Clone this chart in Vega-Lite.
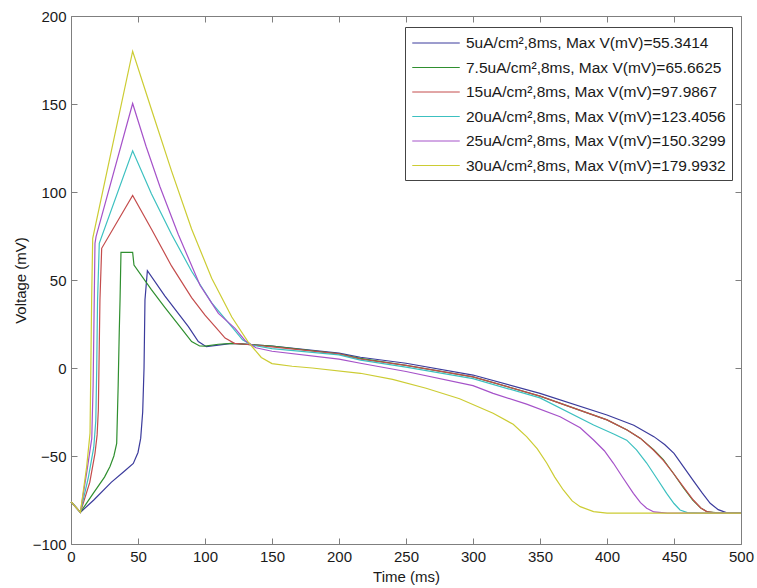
{
  "$schema": "https://vega.github.io/schema/vega-lite/v6.json",
  "width": 670,
  "height": 528,
  "autosize": {"type": "none"},
  "padding": {"left": 71, "top": 16, "right": 16, "bottom": 44},
  "background": "white",
  "config": {
    "view": {"stroke": null},
    "font": "Liberation Sans",
    "axis": {
      "grid": false,
      "domainColor": "#7f7f7f",
      "tickColor": "#7f7f7f",
      "tickSize": -6,
      "labelPadding": 11,
      "labelFontSize": 15,
      "labelColor": "#1a1a1a",
      "labelFlush": false,
      "labelOverlap": false,
      "titleFontSize": 15,
      "titleFontWeight": "normal",
      "titleColor": "#1a1a1a"
    }
  },
  "datasets": {
    "curves": [
      {"s": "5uA/cm²,8ms, Max V(mV)=55.3414", "t": 0, "v": -76},
      {"s": "5uA/cm²,8ms, Max V(mV)=55.3414", "t": 7, "v": -82},
      {"s": "5uA/cm²,8ms, Max V(mV)=55.3414", "t": 17, "v": -75},
      {"s": "5uA/cm²,8ms, Max V(mV)=55.3414", "t": 30, "v": -65},
      {"s": "5uA/cm²,8ms, Max V(mV)=55.3414", "t": 40, "v": -58.5},
      {"s": "5uA/cm²,8ms, Max V(mV)=55.3414", "t": 46.5, "v": -54.2},
      {"s": "5uA/cm²,8ms, Max V(mV)=55.3414", "t": 50, "v": -48},
      {"s": "5uA/cm²,8ms, Max V(mV)=55.3414", "t": 52, "v": -40},
      {"s": "5uA/cm²,8ms, Max V(mV)=55.3414", "t": 53.5, "v": -25},
      {"s": "5uA/cm²,8ms, Max V(mV)=55.3414", "t": 54.5, "v": 0},
      {"s": "5uA/cm²,8ms, Max V(mV)=55.3414", "t": 55.2, "v": 38.6},
      {"s": "5uA/cm²,8ms, Max V(mV)=55.3414", "t": 57, "v": 55.3},
      {"s": "5uA/cm²,8ms, Max V(mV)=55.3414", "t": 70, "v": 41},
      {"s": "5uA/cm²,8ms, Max V(mV)=55.3414", "t": 87.6, "v": 23.5},
      {"s": "5uA/cm²,8ms, Max V(mV)=55.3414", "t": 95, "v": 15},
      {"s": "5uA/cm²,8ms, Max V(mV)=55.3414", "t": 101, "v": 12.1},
      {"s": "5uA/cm²,8ms, Max V(mV)=55.3414", "t": 110, "v": 13},
      {"s": "5uA/cm²,8ms, Max V(mV)=55.3414", "t": 120, "v": 14},
      {"s": "5uA/cm²,8ms, Max V(mV)=55.3414", "t": 150, "v": 12.5},
      {"s": "5uA/cm²,8ms, Max V(mV)=55.3414", "t": 200, "v": 8.5},
      {"s": "5uA/cm²,8ms, Max V(mV)=55.3414", "t": 216, "v": 6.1},
      {"s": "5uA/cm²,8ms, Max V(mV)=55.3414", "t": 250, "v": 2.7},
      {"s": "5uA/cm²,8ms, Max V(mV)=55.3414", "t": 300, "v": -4},
      {"s": "5uA/cm²,8ms, Max V(mV)=55.3414", "t": 350, "v": -14.4},
      {"s": "5uA/cm²,8ms, Max V(mV)=55.3414", "t": 400, "v": -26.7},
      {"s": "5uA/cm²,8ms, Max V(mV)=55.3414", "t": 420, "v": -32.5},
      {"s": "5uA/cm²,8ms, Max V(mV)=55.3414", "t": 435, "v": -39},
      {"s": "5uA/cm²,8ms, Max V(mV)=55.3414", "t": 443, "v": -43.5},
      {"s": "5uA/cm²,8ms, Max V(mV)=55.3414", "t": 450, "v": -48.5},
      {"s": "5uA/cm²,8ms, Max V(mV)=55.3414", "t": 457, "v": -56},
      {"s": "5uA/cm²,8ms, Max V(mV)=55.3414", "t": 464, "v": -63.6},
      {"s": "5uA/cm²,8ms, Max V(mV)=55.3414", "t": 471, "v": -71},
      {"s": "5uA/cm²,8ms, Max V(mV)=55.3414", "t": 477, "v": -76.9},
      {"s": "5uA/cm²,8ms, Max V(mV)=55.3414", "t": 483, "v": -80.5},
      {"s": "5uA/cm²,8ms, Max V(mV)=55.3414", "t": 489, "v": -82.2},
      {"s": "5uA/cm²,8ms, Max V(mV)=55.3414", "t": 500, "v": -82.5},

      {"s": "7.5uA/cm²,8ms, Max V(mV)=65.6625", "t": 0, "v": -76},
      {"s": "7.5uA/cm²,8ms, Max V(mV)=65.6625", "t": 7, "v": -82},
      {"s": "7.5uA/cm²,8ms, Max V(mV)=65.6625", "t": 16.6, "v": -71.2},
      {"s": "7.5uA/cm²,8ms, Max V(mV)=65.6625", "t": 25, "v": -62},
      {"s": "7.5uA/cm²,8ms, Max V(mV)=65.6625", "t": 29.1, "v": -56},
      {"s": "7.5uA/cm²,8ms, Max V(mV)=65.6625", "t": 32, "v": -50},
      {"s": "7.5uA/cm²,8ms, Max V(mV)=65.6625", "t": 34.1, "v": -42.8},
      {"s": "7.5uA/cm²,8ms, Max V(mV)=65.6625", "t": 35.2, "v": -10},
      {"s": "7.5uA/cm²,8ms, Max V(mV)=65.6625", "t": 36, "v": 20},
      {"s": "7.5uA/cm²,8ms, Max V(mV)=65.6625", "t": 36.6, "v": 38.6},
      {"s": "7.5uA/cm²,8ms, Max V(mV)=65.6625", "t": 37.3, "v": 65.7},
      {"s": "7.5uA/cm²,8ms, Max V(mV)=65.6625", "t": 46, "v": 65.7},
      {"s": "7.5uA/cm²,8ms, Max V(mV)=65.6625", "t": 47, "v": 58.5},
      {"s": "7.5uA/cm²,8ms, Max V(mV)=65.6625", "t": 60, "v": 44.5},
      {"s": "7.5uA/cm²,8ms, Max V(mV)=65.6625", "t": 70, "v": 34.5},
      {"s": "7.5uA/cm²,8ms, Max V(mV)=65.6625", "t": 81.3, "v": 23.5},
      {"s": "7.5uA/cm²,8ms, Max V(mV)=65.6625", "t": 90, "v": 15},
      {"s": "7.5uA/cm²,8ms, Max V(mV)=65.6625", "t": 96, "v": 12.5},
      {"s": "7.5uA/cm²,8ms, Max V(mV)=65.6625", "t": 100, "v": 12.4},
      {"s": "7.5uA/cm²,8ms, Max V(mV)=65.6625", "t": 110, "v": 13.5},
      {"s": "7.5uA/cm²,8ms, Max V(mV)=65.6625", "t": 120, "v": 14},
      {"s": "7.5uA/cm²,8ms, Max V(mV)=65.6625", "t": 150, "v": 12.5},
      {"s": "7.5uA/cm²,8ms, Max V(mV)=65.6625", "t": 200, "v": 8},
      {"s": "7.5uA/cm²,8ms, Max V(mV)=65.6625", "t": 216, "v": 5.5},
      {"s": "7.5uA/cm²,8ms, Max V(mV)=65.6625", "t": 250, "v": 1.5},
      {"s": "7.5uA/cm²,8ms, Max V(mV)=65.6625", "t": 300, "v": -5},
      {"s": "7.5uA/cm²,8ms, Max V(mV)=65.6625", "t": 350, "v": -16},
      {"s": "7.5uA/cm²,8ms, Max V(mV)=65.6625", "t": 400, "v": -29.5},
      {"s": "7.5uA/cm²,8ms, Max V(mV)=65.6625", "t": 415, "v": -35.2},
      {"s": "7.5uA/cm²,8ms, Max V(mV)=65.6625", "t": 425, "v": -40},
      {"s": "7.5uA/cm²,8ms, Max V(mV)=65.6625", "t": 435, "v": -46.6},
      {"s": "7.5uA/cm²,8ms, Max V(mV)=65.6625", "t": 442, "v": -52},
      {"s": "7.5uA/cm²,8ms, Max V(mV)=65.6625", "t": 449.5, "v": -59.8},
      {"s": "7.5uA/cm²,8ms, Max V(mV)=65.6625", "t": 457, "v": -68},
      {"s": "7.5uA/cm²,8ms, Max V(mV)=65.6625", "t": 464, "v": -75},
      {"s": "7.5uA/cm²,8ms, Max V(mV)=65.6625", "t": 470, "v": -79.5},
      {"s": "7.5uA/cm²,8ms, Max V(mV)=65.6625", "t": 475, "v": -81.8},
      {"s": "7.5uA/cm²,8ms, Max V(mV)=65.6625", "t": 485, "v": -82.5},
      {"s": "7.5uA/cm²,8ms, Max V(mV)=65.6625", "t": 500, "v": -82.5},

      {"s": "15uA/cm²,8ms, Max V(mV)=97.9867", "t": 0, "v": -76},
      {"s": "15uA/cm²,8ms, Max V(mV)=97.9867", "t": 7, "v": -82},
      {"s": "15uA/cm²,8ms, Max V(mV)=97.9867", "t": 14, "v": -65},
      {"s": "15uA/cm²,8ms, Max V(mV)=97.9867", "t": 17.9, "v": -48.5},
      {"s": "15uA/cm²,8ms, Max V(mV)=97.9867", "t": 19.5, "v": -38},
      {"s": "15uA/cm²,8ms, Max V(mV)=97.9867", "t": 20.4, "v": -23.9},
      {"s": "15uA/cm²,8ms, Max V(mV)=97.9867", "t": 21.6, "v": 38.6},
      {"s": "15uA/cm²,8ms, Max V(mV)=97.9867", "t": 22.9, "v": 68},
      {"s": "15uA/cm²,8ms, Max V(mV)=97.9867", "t": 46, "v": 98},
      {"s": "15uA/cm²,8ms, Max V(mV)=97.9867", "t": 60, "v": 79},
      {"s": "15uA/cm²,8ms, Max V(mV)=97.9867", "t": 75, "v": 58},
      {"s": "15uA/cm²,8ms, Max V(mV)=97.9867", "t": 90, "v": 40},
      {"s": "15uA/cm²,8ms, Max V(mV)=97.9867", "t": 100, "v": 30},
      {"s": "15uA/cm²,8ms, Max V(mV)=97.9867", "t": 108.7, "v": 22.5},
      {"s": "15uA/cm²,8ms, Max V(mV)=97.9867", "t": 115, "v": 17},
      {"s": "15uA/cm²,8ms, Max V(mV)=97.9867", "t": 122, "v": 14},
      {"s": "15uA/cm²,8ms, Max V(mV)=97.9867", "t": 130, "v": 13.5},
      {"s": "15uA/cm²,8ms, Max V(mV)=97.9867", "t": 150, "v": 12},
      {"s": "15uA/cm²,8ms, Max V(mV)=97.9867", "t": 200, "v": 8},
      {"s": "15uA/cm²,8ms, Max V(mV)=97.9867", "t": 216, "v": 5},
      {"s": "15uA/cm²,8ms, Max V(mV)=97.9867", "t": 250, "v": 1.5},
      {"s": "15uA/cm²,8ms, Max V(mV)=97.9867", "t": 300, "v": -5},
      {"s": "15uA/cm²,8ms, Max V(mV)=97.9867", "t": 350, "v": -16},
      {"s": "15uA/cm²,8ms, Max V(mV)=97.9867", "t": 400, "v": -29.5},
      {"s": "15uA/cm²,8ms, Max V(mV)=97.9867", "t": 415, "v": -35.2},
      {"s": "15uA/cm²,8ms, Max V(mV)=97.9867", "t": 425, "v": -40},
      {"s": "15uA/cm²,8ms, Max V(mV)=97.9867", "t": 434.6, "v": -46.6},
      {"s": "15uA/cm²,8ms, Max V(mV)=97.9867", "t": 442, "v": -52.5},
      {"s": "15uA/cm²,8ms, Max V(mV)=97.9867", "t": 449.5, "v": -59.8},
      {"s": "15uA/cm²,8ms, Max V(mV)=97.9867", "t": 457, "v": -67.5},
      {"s": "15uA/cm²,8ms, Max V(mV)=97.9867", "t": 464.4, "v": -75},
      {"s": "15uA/cm²,8ms, Max V(mV)=97.9867", "t": 470, "v": -79.5},
      {"s": "15uA/cm²,8ms, Max V(mV)=97.9867", "t": 474.4, "v": -81.6},
      {"s": "15uA/cm²,8ms, Max V(mV)=97.9867", "t": 482, "v": -82.5},
      {"s": "15uA/cm²,8ms, Max V(mV)=97.9867", "t": 500, "v": -82.5},

      {"s": "20uA/cm²,8ms, Max V(mV)=123.4056", "t": 0, "v": -76},
      {"s": "20uA/cm²,8ms, Max V(mV)=123.4056", "t": 7, "v": -82},
      {"s": "20uA/cm²,8ms, Max V(mV)=123.4056", "t": 13, "v": -62},
      {"s": "20uA/cm²,8ms, Max V(mV)=123.4056", "t": 17, "v": -45},
      {"s": "20uA/cm²,8ms, Max V(mV)=123.4056", "t": 18.5, "v": -30},
      {"s": "20uA/cm²,8ms, Max V(mV)=123.4056", "t": 19.2, "v": 0},
      {"s": "20uA/cm²,8ms, Max V(mV)=123.4056", "t": 19.8, "v": 38},
      {"s": "20uA/cm²,8ms, Max V(mV)=123.4056", "t": 21.1, "v": 70.8},
      {"s": "20uA/cm²,8ms, Max V(mV)=123.4056", "t": 46, "v": 123.4},
      {"s": "20uA/cm²,8ms, Max V(mV)=123.4056", "t": 60, "v": 99},
      {"s": "20uA/cm²,8ms, Max V(mV)=123.4056", "t": 75, "v": 76},
      {"s": "20uA/cm²,8ms, Max V(mV)=123.4056", "t": 90, "v": 55},
      {"s": "20uA/cm²,8ms, Max V(mV)=123.4056", "t": 105, "v": 37},
      {"s": "20uA/cm²,8ms, Max V(mV)=123.4056", "t": 121, "v": 22.5},
      {"s": "20uA/cm²,8ms, Max V(mV)=123.4056", "t": 128, "v": 16},
      {"s": "20uA/cm²,8ms, Max V(mV)=123.4056", "t": 135, "v": 13},
      {"s": "20uA/cm²,8ms, Max V(mV)=123.4056", "t": 150, "v": 11},
      {"s": "20uA/cm²,8ms, Max V(mV)=123.4056", "t": 200, "v": 7.5},
      {"s": "20uA/cm²,8ms, Max V(mV)=123.4056", "t": 216, "v": 4.5},
      {"s": "20uA/cm²,8ms, Max V(mV)=123.4056", "t": 250, "v": 0.5},
      {"s": "20uA/cm²,8ms, Max V(mV)=123.4056", "t": 300, "v": -6},
      {"s": "20uA/cm²,8ms, Max V(mV)=123.4056", "t": 350, "v": -17},
      {"s": "20uA/cm²,8ms, Max V(mV)=123.4056", "t": 390, "v": -32.4},
      {"s": "20uA/cm²,8ms, Max V(mV)=123.4056", "t": 405, "v": -37.5},
      {"s": "20uA/cm²,8ms, Max V(mV)=123.4056", "t": 414.7, "v": -41},
      {"s": "20uA/cm²,8ms, Max V(mV)=123.4056", "t": 422, "v": -46.5},
      {"s": "20uA/cm²,8ms, Max V(mV)=123.4056", "t": 429.6, "v": -54},
      {"s": "20uA/cm²,8ms, Max V(mV)=123.4056", "t": 437, "v": -62.5},
      {"s": "20uA/cm²,8ms, Max V(mV)=123.4056", "t": 444.5, "v": -71.2},
      {"s": "20uA/cm²,8ms, Max V(mV)=123.4056", "t": 450, "v": -77},
      {"s": "20uA/cm²,8ms, Max V(mV)=123.4056", "t": 454.5, "v": -80.7},
      {"s": "20uA/cm²,8ms, Max V(mV)=123.4056", "t": 460, "v": -82.2},
      {"s": "20uA/cm²,8ms, Max V(mV)=123.4056", "t": 470, "v": -82.5},
      {"s": "20uA/cm²,8ms, Max V(mV)=123.4056", "t": 500, "v": -82.5},

      {"s": "25uA/cm²,8ms, Max V(mV)=150.3299", "t": 0, "v": -76},
      {"s": "25uA/cm²,8ms, Max V(mV)=150.3299", "t": 7, "v": -82},
      {"s": "25uA/cm²,8ms, Max V(mV)=150.3299", "t": 12, "v": -58},
      {"s": "25uA/cm²,8ms, Max V(mV)=150.3299", "t": 15.5, "v": -40},
      {"s": "25uA/cm²,8ms, Max V(mV)=150.3299", "t": 16.5, "v": -10},
      {"s": "25uA/cm²,8ms, Max V(mV)=150.3299", "t": 17.2, "v": 30},
      {"s": "25uA/cm²,8ms, Max V(mV)=150.3299", "t": 17.9, "v": 70.8},
      {"s": "25uA/cm²,8ms, Max V(mV)=150.3299", "t": 18.7, "v": 74.6},
      {"s": "25uA/cm²,8ms, Max V(mV)=150.3299", "t": 46, "v": 150.3},
      {"s": "25uA/cm²,8ms, Max V(mV)=150.3299", "t": 56, "v": 126},
      {"s": "25uA/cm²,8ms, Max V(mV)=150.3299", "t": 66.4, "v": 103},
      {"s": "25uA/cm²,8ms, Max V(mV)=150.3299", "t": 80, "v": 76},
      {"s": "25uA/cm²,8ms, Max V(mV)=150.3299", "t": 96.3, "v": 47},
      {"s": "25uA/cm²,8ms, Max V(mV)=150.3299", "t": 110, "v": 31},
      {"s": "25uA/cm²,8ms, Max V(mV)=150.3299", "t": 122.4, "v": 22.5},
      {"s": "25uA/cm²,8ms, Max V(mV)=150.3299", "t": 130, "v": 15.5},
      {"s": "25uA/cm²,8ms, Max V(mV)=150.3299", "t": 138, "v": 11.5},
      {"s": "25uA/cm²,8ms, Max V(mV)=150.3299", "t": 150, "v": 9.5},
      {"s": "25uA/cm²,8ms, Max V(mV)=150.3299", "t": 200, "v": 5},
      {"s": "25uA/cm²,8ms, Max V(mV)=150.3299", "t": 216, "v": 2.7},
      {"s": "25uA/cm²,8ms, Max V(mV)=150.3299", "t": 250, "v": -2},
      {"s": "25uA/cm²,8ms, Max V(mV)=150.3299", "t": 300, "v": -10},
      {"s": "25uA/cm²,8ms, Max V(mV)=150.3299", "t": 315, "v": -14.4},
      {"s": "25uA/cm²,8ms, Max V(mV)=150.3299", "t": 340, "v": -20.5},
      {"s": "25uA/cm²,8ms, Max V(mV)=150.3299", "t": 365, "v": -27.7},
      {"s": "25uA/cm²,8ms, Max V(mV)=150.3299", "t": 380, "v": -34},
      {"s": "25uA/cm²,8ms, Max V(mV)=150.3299", "t": 390, "v": -40.9},
      {"s": "25uA/cm²,8ms, Max V(mV)=150.3299", "t": 398, "v": -47},
      {"s": "25uA/cm²,8ms, Max V(mV)=150.3299", "t": 404.7, "v": -54},
      {"s": "25uA/cm²,8ms, Max V(mV)=150.3299", "t": 412, "v": -62.5},
      {"s": "25uA/cm²,8ms, Max V(mV)=150.3299", "t": 419.7, "v": -71.2},
      {"s": "25uA/cm²,8ms, Max V(mV)=150.3299", "t": 425, "v": -76.5},
      {"s": "25uA/cm²,8ms, Max V(mV)=150.3299", "t": 429.6, "v": -79.7},
      {"s": "25uA/cm²,8ms, Max V(mV)=150.3299", "t": 435, "v": -81.8},
      {"s": "25uA/cm²,8ms, Max V(mV)=150.3299", "t": 445, "v": -82.5},
      {"s": "25uA/cm²,8ms, Max V(mV)=150.3299", "t": 500, "v": -82.5},

      {"s": "30uA/cm²,8ms, Max V(mV)=179.9932", "t": 0, "v": -76},
      {"s": "30uA/cm²,8ms, Max V(mV)=179.9932", "t": 7, "v": -82},
      {"s": "30uA/cm²,8ms, Max V(mV)=179.9932", "t": 11.7, "v": -56},
      {"s": "30uA/cm²,8ms, Max V(mV)=179.9932", "t": 14.2, "v": -37},
      {"s": "30uA/cm²,8ms, Max V(mV)=179.9932", "t": 14.8, "v": 0},
      {"s": "30uA/cm²,8ms, Max V(mV)=179.9932", "t": 15.4, "v": 38.6},
      {"s": "30uA/cm²,8ms, Max V(mV)=179.9932", "t": 16.2, "v": 73.7},
      {"s": "30uA/cm²,8ms, Max V(mV)=179.9932", "t": 46, "v": 180},
      {"s": "30uA/cm²,8ms, Max V(mV)=179.9932", "t": 60, "v": 147},
      {"s": "30uA/cm²,8ms, Max V(mV)=179.9932", "t": 75, "v": 112},
      {"s": "30uA/cm²,8ms, Max V(mV)=179.9932", "t": 90, "v": 79},
      {"s": "30uA/cm²,8ms, Max V(mV)=179.9932", "t": 105, "v": 51},
      {"s": "30uA/cm²,8ms, Max V(mV)=179.9932", "t": 120, "v": 29},
      {"s": "30uA/cm²,8ms, Max V(mV)=179.9932", "t": 132, "v": 15},
      {"s": "30uA/cm²,8ms, Max V(mV)=179.9932", "t": 142, "v": 6},
      {"s": "30uA/cm²,8ms, Max V(mV)=179.9932", "t": 150, "v": 2.5},
      {"s": "30uA/cm²,8ms, Max V(mV)=179.9932", "t": 165, "v": 1},
      {"s": "30uA/cm²,8ms, Max V(mV)=179.9932", "t": 180, "v": 0},
      {"s": "30uA/cm²,8ms, Max V(mV)=179.9932", "t": 216, "v": -3},
      {"s": "30uA/cm²,8ms, Max V(mV)=179.9932", "t": 240, "v": -6.5},
      {"s": "30uA/cm²,8ms, Max V(mV)=179.9932", "t": 265, "v": -11.5},
      {"s": "30uA/cm²,8ms, Max V(mV)=179.9932", "t": 290, "v": -17.5},
      {"s": "30uA/cm²,8ms, Max V(mV)=179.9932", "t": 315, "v": -25.7},
      {"s": "30uA/cm²,8ms, Max V(mV)=179.9932", "t": 330, "v": -32},
      {"s": "30uA/cm²,8ms, Max V(mV)=179.9932", "t": 340, "v": -39},
      {"s": "30uA/cm²,8ms, Max V(mV)=179.9932", "t": 348, "v": -46},
      {"s": "30uA/cm²,8ms, Max V(mV)=179.9932", "t": 355, "v": -54},
      {"s": "30uA/cm²,8ms, Max V(mV)=179.9932", "t": 361, "v": -62},
      {"s": "30uA/cm²,8ms, Max V(mV)=179.9932", "t": 367.4, "v": -69.3},
      {"s": "30uA/cm²,8ms, Max V(mV)=179.9932", "t": 374, "v": -75.5},
      {"s": "30uA/cm²,8ms, Max V(mV)=179.9932", "t": 380, "v": -78.8},
      {"s": "30uA/cm²,8ms, Max V(mV)=179.9932", "t": 390, "v": -81.6},
      {"s": "30uA/cm²,8ms, Max V(mV)=179.9932", "t": 400, "v": -82.5},
      {"s": "30uA/cm²,8ms, Max V(mV)=179.9932", "t": 500, "v": -82.5}
    ]
  },
  "data": {"name": "curves"},
  "layer": [
    {
      "mark": {"type": "line", "strokeWidth": 1.2},
      "encoding": {
        "x": {
          "field": "t", "type": "quantitative",
          "scale": {"domain": [0, 500], "nice": false},
          "axis": {"orient": "bottom", "title": "Time (ms)", "values": [0, 50, 100, 150, 200, 250, 300, 350, 400, 450, 500], "titlePadding": 5}
        },
        "y": {
          "field": "v", "type": "quantitative",
          "scale": {"domain": [-100, 200], "nice": false},
          "axis": {"orient": "left", "title": "Voltage (mV)", "values": [-100, -50, 0, 50, 100, 150, 200], "titlePadding": 4}
        },
        "color": {
          "field": "s", "type": "nominal",
          "scale": {
            "domain": [
              "5uA/cm²,8ms, Max V(mV)=55.3414",
              "7.5uA/cm²,8ms, Max V(mV)=65.6625",
              "15uA/cm²,8ms, Max V(mV)=97.9867",
              "20uA/cm²,8ms, Max V(mV)=123.4056",
              "25uA/cm²,8ms, Max V(mV)=150.3299",
              "30uA/cm²,8ms, Max V(mV)=179.9932"
            ],
            "range": ["#3b3b9c", "#2f8f2f", "#c44c4c", "#3cc0c0", "#a552c9", "#cccc33"]
          },
          "legend": {
            "orient": "none",
            "legendX": 334,
            "legendY": 11,
            "title": null,
            "strokeColor": "#444444",
            "fillColor": "white",
            "padding": 6,
            "symbolType": "M-2.5,0H2.5",
            "symbolSize": 361,
            "symbolStrokeWidth": 1,
            "symbolOffset": 15,
            "labelOffset": 20,
            "labelFontSize": 15.5,
            "labelLimit": 400,
            "labelColor": "#1a1a1a",
            "rowPadding": 5.5
          }
        }
      }
    },
    {
      "mark": {"type": "line", "opacity": 0},
      "encoding": {
        "x": {
          "field": "t", "type": "quantitative",
          "scale": {"domain": [0, 500], "nice": false},
          "axis": {"orient": "top", "title": null, "labels": false, "values": [0, 50, 100, 150, 200, 250, 300, 350, 400, 450, 500]}
        },
        "y": {
          "field": "v", "type": "quantitative",
          "scale": {"domain": [-100, 200], "nice": false},
          "axis": {"orient": "right", "title": null, "labels": false, "values": [-100, -50, 0, 50, 100, 150, 200]}
        }
      }
    }
  ],
  "resolve": {"axis": {"x": "independent", "y": "independent"}}
}
